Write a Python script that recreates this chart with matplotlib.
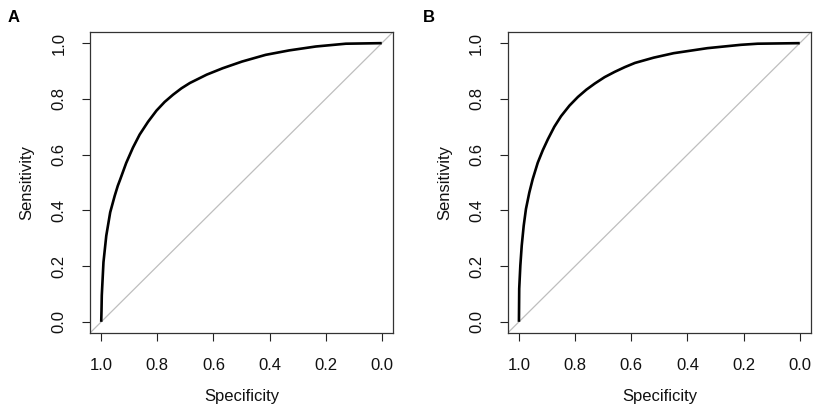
import matplotlib
matplotlib.use("Agg")
import matplotlib.pyplot as plt

plt.rcParams['font.family'] = ['Liberation Sans', 'DejaVu Sans']

# ROC curve A (specificity, sensitivity)
spec_a = [1.0, 0.999, 0.998, 0.992, 0.982, 0.968, 0.952, 0.941, 0.932, 0.911,
          0.887, 0.863, 0.833, 0.803, 0.774, 0.744, 0.714, 0.684, 0.624, 0.567,
          0.498, 0.414, 0.330, 0.235, 0.128, 0.0]
sens_a = [0.0, 0.040, 0.095, 0.214, 0.309, 0.393, 0.452, 0.488, 0.512, 0.570,
          0.625, 0.672, 0.718, 0.758, 0.789, 0.815, 0.838, 0.857, 0.887, 0.910,
          0.934, 0.958, 0.974, 0.988, 0.998, 1.0]

# ROC curve B
spec_b = [1.0, 0.999, 0.995, 0.990, 0.983, 0.975, 0.963, 0.951, 0.933, 0.915,
          0.897, 0.874, 0.850, 0.820, 0.790, 0.760, 0.730, 0.695, 0.659, 0.623,
          0.587, 0.520, 0.449, 0.329, 0.210, 0.150, 0.0]
sens_b = [0.0, 0.119, 0.202, 0.274, 0.345, 0.405, 0.464, 0.512, 0.571, 0.616,
          0.655, 0.700, 0.738, 0.776, 0.807, 0.833, 0.855, 0.878, 0.897, 0.914,
          0.929, 0.948, 0.964, 0.982, 0.994, 0.998, 1.0]

ticks = [1.0, 0.8, 0.6, 0.4, 0.2, 0.0]
tick_labels = ["1.0", "0.8", "0.6", "0.4", "0.2", "0.0"]
panels = ["A", "B"]

W, H = 829, 413
fig = plt.figure(figsize=(W / 100, H / 100), dpi=100)

boxes = [(90, 393), (507.7, 811)]
top_px, bot_px = 32, 333
letter_x = [14, 429]
ylabel_x = [27, 445]

for i, (spec, sens) in enumerate([(spec_a, sens_a), (spec_b, sens_b)]):
    l, r = boxes[i]
    ax = fig.add_axes([l / W, 1 - bot_px / H, (r - l) / W, (bot_px - top_px) / H])
    ax.axline((1, 0), (0, 1), color="#bebebe", lw=0.9, zorder=1)
    ax.plot(spec, sens, color="black", lw=1.9, zorder=2, solid_capstyle="butt")
    ax.set_xlim(1.04, -0.04)
    ax.set_ylim(-0.04, 1.04)
    ax.set_xticks(ticks)
    ax.set_xticklabels(tick_labels)
    ax.set_yticks(ticks)
    ax.set_yticklabels(tick_labels, rotation=90, va="center")
    ax.tick_params(axis="both", length=6, width=0.8, labelsize=12,
                   colors="#222222", labelcolor="#111111")
    ax.tick_params(axis="x", pad=12)
    ax.tick_params(axis="y", pad=11)
    for s in ax.spines.values():
        s.set_linewidth(0.9)
        s.set_color("#333333")
    ax.set_xlabel("Specificity", fontsize=12, color="#111111", va="center")
    ax.set_ylabel("Sensitivity", fontsize=12, color="#111111", va="center")
    w = r - l
    hgt = bot_px - top_px
    ax.xaxis.set_label_coords(0.5, (bot_px - 397) / hgt)
    ax.yaxis.set_label_coords((ylabel_x[i] - l) / w, 0.5)
    fig.text(letter_x[i] / W, 1 - 18 / H, panels[i], fontsize=12, fontweight="bold",
             ha="center", va="center")

fig.savefig("out.png", dpi=100)
